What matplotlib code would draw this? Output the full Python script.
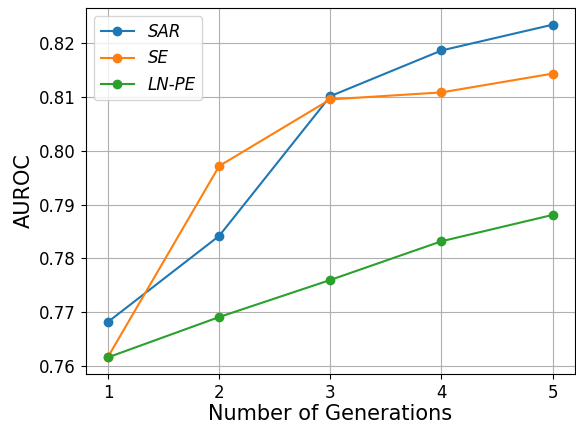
import numpy as np
import matplotlib.pyplot as plt

generations = [1, 2, 3, 4, 5]
sar = [0.7682, 0.7842, 0.8102, 0.8187, 0.8235]
se = [0.7617, 0.7972, 0.8096, 0.8109, 0.8144]
ln_pe = [0.7616, 0.7691, 0.7760, 0.7832, 0.7881]

fig, ax = plt.subplots(figsize=(5.76, 4.24), dpi=100)
fig.subplots_adjust(left=0.149, right=0.998, top=0.981, bottom=0.118)

ax.plot(generations, sar, marker='o', label='SAR')
ax.plot(generations, se, marker='o', label='SE')
ax.plot(generations, ln_pe, marker='o', label='LN-PE')

ax.set_xticks(generations)
ax.tick_params(labelsize=12)
ax.set_xlabel('Number of Generations', fontsize=15, labelpad=2)
ax.set_ylabel('AUROC', fontsize=15)
ax.grid(True)
ax.legend(prop={'style': 'italic', 'size': 12}, loc='upper left')

plt.savefig('out.png')
